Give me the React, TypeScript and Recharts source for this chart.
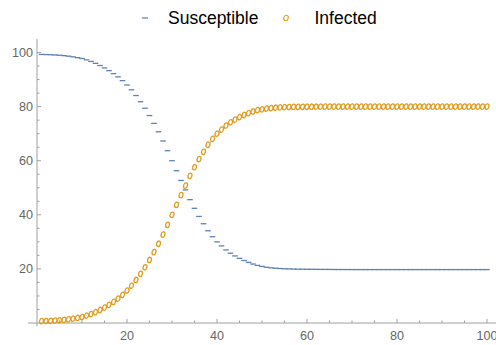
import { ScatterChart, Scatter, XAxis, YAxis, ReferenceLine, Legend } from "recharts";

const DAYS = Array.from({ length: 100 }, (_, i) => i + 1);

const SUSCEPTIBLE = [
  99.3, 99.25, 99.2, 99.1, 99.0, 98.85, 98.65, 98.4, 98.1, 97.8,
  97.3, 96.7, 96.0, 95.2, 94.3, 93.3, 92.2, 91.0, 89.6, 88.0,
  86.2, 84.1, 81.8, 79.4, 76.7, 73.8, 70.7, 67.3, 63.7, 60.0,
  56.3, 52.7, 49.2, 45.6, 42.4, 39.4, 36.7, 34.1, 31.9, 30.0,
  28.5, 27.0, 25.8, 24.8, 23.9, 23.1, 22.4, 21.8, 21.3, 20.9,
  20.6, 20.4, 20.25, 20.15, 20.05, 20.0, 19.95, 19.9, 19.88, 19.86,
  19.84, 19.83, 19.82, 19.81, 19.8, 19.78, 19.77, 19.77, 19.76, 19.76,
  19.75, 19.75, 19.75, 19.75, 19.75, 19.75, 19.75, 19.75, 19.75, 19.75,
  19.75, 19.75, 19.75, 19.75, 19.75, 19.75, 19.75, 19.75, 19.75, 19.75,
  19.75, 19.75, 19.75, 19.75, 19.75, 19.75, 19.75, 19.75, 19.75, 19.75,
];

const INFECTED = [
  0.7, 0.75, 0.8, 0.9, 1.0, 1.15, 1.35, 1.6, 1.9, 2.2,
  2.7, 3.3, 4.0, 4.8, 5.7, 6.7, 7.8, 9.0, 10.4, 12.0,
  13.8, 15.9, 18.2, 20.6, 23.3, 26.2, 29.3, 32.7, 36.3, 40.0,
  43.7, 47.3, 50.8, 54.4, 57.6, 60.6, 63.3, 65.9, 68.1, 70.0,
  71.5, 73.0, 74.2, 75.2, 76.1, 76.9, 77.6, 78.2, 78.7, 79.0,
  79.25, 79.45, 79.6, 79.7, 79.8, 79.85, 79.9, 79.92, 79.94, 79.95,
  79.96, 79.97, 79.98, 79.99, 80.0, 80.0, 80.0, 80.0, 80.0, 80.0,
  80.0, 80.0, 80.0, 80.0, 80.0, 80.0, 80.0, 80.0, 80.0, 80.0,
  80.0, 80.0, 80.0, 80.0, 80.0, 80.0, 80.0, 80.0, 80.0, 80.0,
  80.0, 80.0, 80.0, 80.0, 80.0, 80.0, 80.0, 80.0, 80.0, 80.0,
];

const X_TICKS = [5, 10, 15, 20, 25, 30, 35, 40, 45, 50, 55, 60, 65, 70, 75, 80, 85, 90, 95, 100];
const Y_TICKS = [5, 10, 15, 20, 25, 30, 35, 40, 45, 50, 55, 60, 65, 70, 75, 80, 85, 90, 95, 100];

const BLUE = "#5E81B5";
const ORANGE = "#E19C24";
const AXIS = "#a0a0a0";
const LABEL = "#666666";
const FONT = "'Liberation Sans', Arial, sans-serif";

const susceptibleData = DAYS.map((d, i) => ({ day: d, value: SUSCEPTIBLE[i] }));
const infectedData = DAYS.map((d, i) => ({ day: d, value: INFECTED[i] }));

const Dash = ({ cx, cy }: any) => (
  <line x1={cx - 2.8} x2={cx + 2.8} y1={cy} y2={cy} stroke={BLUE} strokeWidth={1.3} />
);

const Ring = ({ cx, cy }: any) => (
  <ellipse
    cx={cx}
    cy={cy}
    rx={1.9}
    ry={2.75}
    fill="none"
    stroke={ORANGE}
    strokeWidth={1.3}
    transform={`rotate(15 ${cx} ${cy})`}
  />
);

const XTick = ({ x, y, payload }: any) => {
  const major = payload.value % 20 === 0;
  return (
    <g>
      <line x1={x} x2={x} y1={y} y2={y - (major ? 4 : 2.5)} stroke={AXIS} />
      {major && (
        <text x={x} y={y + 17} textAnchor="middle" fill={LABEL} fontSize={12.6} fontFamily={FONT}>
          {payload.value}
        </text>
      )}
    </g>
  );
};

const YTick = ({ x, y, payload }: any) => {
  const major = payload.value % 20 === 0;
  return (
    <g>
      <line x1={x} x2={x + (major ? 4 : 2.5)} y1={y} y2={y} stroke={AXIS} />
      {major && (
        <text x={x - 4} y={y} dy="0.36em" textAnchor="end" fill={LABEL} fontSize={12.6} fontFamily={FONT}>
          {payload.value}
        </text>
      )}
    </g>
  );
};

const LegendContent = () => (
  <div
    style={{
      display: "flex",
      alignItems: "center",
      paddingLeft: 141,
      height: 36,
      fontFamily: FONT,
      fontSize: 17.5,
      color: "#000",
    }}
  >
    <svg width={8} height={10} style={{ marginRight: 19 }}>
      <line x1={1} x2={7} y1={5} y2={5} stroke={BLUE} strokeWidth={1.2} />
    </svg>
    <span style={{ marginRight: 24 }}>Susceptible</span>
    <svg width={8} height={10} style={{ marginRight: 24 }}>
      <ellipse cx={4} cy={5} rx={2.2} ry={2.8} fill="none" stroke={ORANGE} strokeWidth={1.1} transform="rotate(15 4 5)" />
    </svg>
    <span>Infected</span>
  </div>
);

export default function App() {
  return (
    <div style={{ position: "absolute", left: 0, top: 0, width: 496, height: 345, background: "#fff" }}>
      <ScatterChart width={496} height={345} margin={{ top: 39, right: 0, bottom: 0, left: 0 }}>
        <XAxis
          type="number"
          dataKey="day"
          domain={[0, 102]}
          ticks={X_TICKS}
          interval={0}
          tick={<XTick />}
          tickSize={0}
          tickMargin={0}
          tickLine={false}
          axisLine={false}
          height={22}
        />
        <YAxis
          type="number"
          dataKey="value"
          domain={[0, 105]}
          ticks={Y_TICKS}
          interval={0}
          tick={<YTick />}
          tickSize={0}
          tickMargin={0}
          tickLine={false}
          axisLine={false}
          width={37}
        />
        <ReferenceLine
          segment={[{ x: -2, y: 0 }, { x: 102, y: 0 }]}
          stroke={AXIS}
          ifOverflow="visible"
        />
        <ReferenceLine
          segment={[{ x: 0, y: -1.2 }, { x: 0, y: 105 }]}
          stroke={AXIS}
          ifOverflow="visible"
        />
        <Legend
          verticalAlign="middle"
          content={<LegendContent />}
          wrapperStyle={{ top: 0, left: 0, width: 496, height: 36 }}
        />
        <Scatter name="Susceptible" data={susceptibleData} shape={<Dash />} isAnimationActive={false} />
        <Scatter name="Infected" data={infectedData} shape={<Ring />} isAnimationActive={false} />
      </ScatterChart>
    </div>
  );
}
